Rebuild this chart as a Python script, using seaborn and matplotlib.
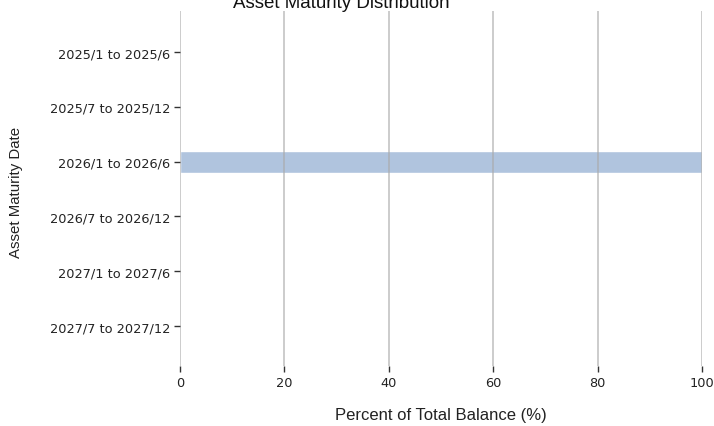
import matplotlib
matplotlib.use("Agg")
import matplotlib.pyplot as plt
import seaborn as sns
import pandas as pd

categories = ["2025/1 to 2025/6", "2025/7 to 2025/12", "2026/1 to 2026/6",
              "2026/7 to 2026/12", "2027/1 to 2027/6", "2027/7 to 2027/12"]
percent = [0, 0, 100, 0, 0, 0]
xticks = [0, 20, 40, 60, 80, 100]

df = pd.DataFrame({"Asset Maturity Date": categories, "Percent": percent})

sns.set_theme(style="white")
plt.rcParams["font.family"] = ["DejaVu Sans"]

fig = plt.figure(figsize=(7.14, 4.27), dpi=100)
ax = fig.add_axes([180 / 714, 1 - 367 / 427, (702 - 180) / 714, (367 - 12) / 427])

sns.barplot(data=df, y="Asset Maturity Date", x="Percent", order=categories,
            orient="h", color="#b0c4de", saturation=1, width=0.4, ax=ax, zorder=1)

ax.set_xlim(0, 100)
ax.set_ylim(5.73, -0.75)
ax.set_xticks(xticks)
ax.set_xticklabels([str(t) for t in xticks])
ax.grid(axis="x", color="#aaaaaa", linewidth=1.2, alpha=0.7, zorder=3)
ax.set_axisbelow(False)
for s in ax.spines.values():
    s.set_visible(False)
ax.tick_params(axis="both", which="both", length=4, width=1, color="#333333",
               labelsize=9.3, labelcolor="#222222", bottom=True, left=True, pad=3)

ax.set_xlabel("Percent of Total Balance (%)", fontsize=12,
              family=["Liberation Sans", "DejaVu Sans"], color="#222222", labelpad=13)
ax.set_ylabel("")
fig.text(16 / 714, 1 - 192 / 427, "Asset Maturity Date", rotation=90,
         ha="center", va="center", fontsize=10.8,
         family=["Liberation Sans", "DejaVu Sans"], color="#222222")
fig.text(341 / 714, 1 - 8 / 427, "Asset Maturity Distribution", ha="center",
         va="baseline", fontsize=13.5, family=["Liberation Sans", "DejaVu Sans"],
         color="#111111")

fig.savefig("out.png", dpi=100)
